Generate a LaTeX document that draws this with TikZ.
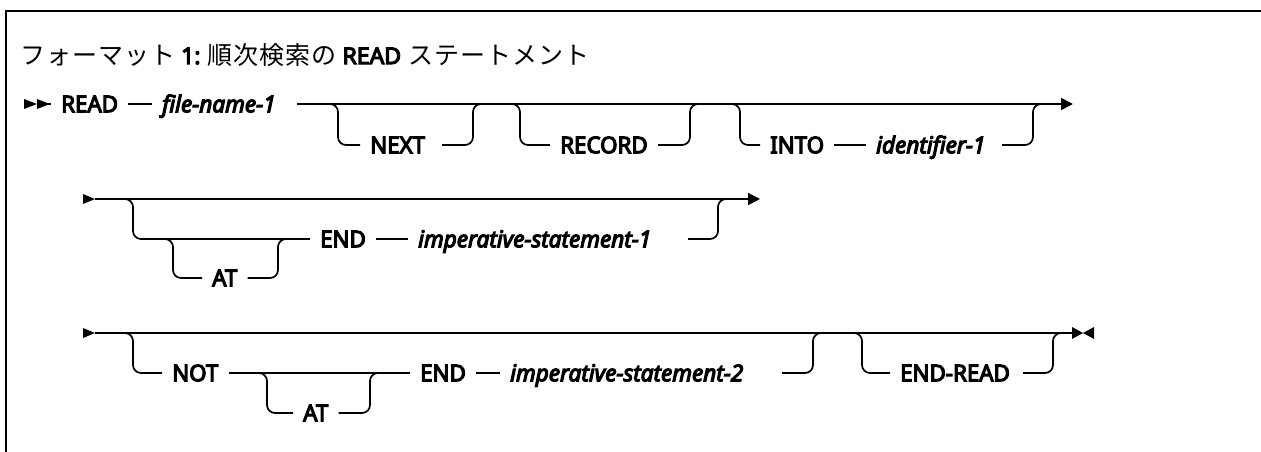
\documentclass[tikz,border=0pt]{standalone}
\usepackage{fontspec}
\setmainfont{Noto Sans}
\newfontfamily\kwfont{Noto Sans}[FakeStretch=0.97,FakeBold=5]
\newfontfamily\varfont{Noto Sans}[FakeStretch=0.98,FakeBold=5]
\newfontfamily\ttlfont{Noto Sans}[FakeBold=5]
\newfontfamily\cjk{Noto Sans CJK JP}[LetterSpace=4]
\usetikzlibrary{arrows.meta}
\tikzset{
  rail/.style={line width=1.7pt, rounded corners=8pt},
  tip/.style={-{Triangle[length=12pt,width=12pt]}},
  lbl/.style={inner xsep=10pt, inner ysep=0pt, text height=16.4pt, text depth=0pt, anchor=west},
  kw/.style={lbl, font=\kwfont\fontsize{23}{23}\selectfont},
  var/.style={lbl, font=\varfont\fontsize{23}{23}\selectfont\itshape},
  frame/.style={line width=2.4pt},
}
\newcommand{\jp}[1]{{\cjk\fontsize{25}{25}\selectfont #1}}
\newcommand{\lt}[1]{{\ttlfont\fontsize{23}{23}\selectfont #1}}
\begin{document}
\begin{tikzpicture}[x=1pt,y=-1pt]
\useasboundingbox (0,0) rectangle (1261,452);
% frame
\draw[frame] (6,452) coordinate (fb) -- (6,11) coordinate (fc) -- (1261,11) coordinate (fr);
% title
\node[anchor=base west, inner sep=0pt] (title) at (20,64)
  {\jp{フォーマット}\hspace{6pt}\lt{1:}\hspace{7pt}\jp{順次検索の}\hspace{6pt}\lt{READ}\hspace{7pt}\jp{ステートメント}};

% ---------------- row 1 ----------------
\fill (24,99) -- (37,104) -- (24,109) -- cycle;
\fill (37,99) -- (50,104) -- (37,109) -- cycle;
\node[kw]  (read)  at (51,104)  {READ};
\node[var] (file1) at (152,104) {file-name-1};
\draw[rail] (37,104) coordinate (s1) -- (read.west);
\draw[rail] (read.east) -- (file1.west);
\draw[rail,tip] (297,104) coordinate (m1s) -- (1073,104) coordinate (m1e);
% NEXT
\node[kw] (next) at (360,145) {NEXT};
\draw[rail] (330,104) coordinate (nd) -- (338,104) |- (next.west);
\draw[rail] (442,145) coordinate (ne1) -| (473,104) -- (481,104) coordinate (nr);
% RECORD
\node[kw] (record) at (550,145) {RECORD};
\draw[rail] (512,104) coordinate (rd) -- (520,104) |- (record.west);
\draw[rail] (658,145) coordinate (re) -| (690,104) -- (698,104) coordinate (rr);
% INTO identifier-1
\node[kw]  (into) at (760,145) {INTO};
\node[var] (ident) at (866,145) {identifier-1};
\draw[rail] (732,104) coordinate (id) -- (740,104) |- (into.west);
\draw[rail] (into.east) -- (ident.west);
\draw[rail] (1002,145) coordinate (ie) -| (1033,104) -- (1041,104) coordinate (ir);

% ---------------- row 2 ----------------
\fill (83,194) -- (95,199) -- (83,204) -- cycle;
\draw[rail,tip] (95,199) coordinate (m2s) -- (760,199) coordinate (m2e);
\node[kw]  (end1) at (310,239) {END};
\node[var] (imp1) at (408,239) {imperative-statement-1};
\draw[rail] (125,199) coordinate (ad) -- (133,199) |- (end1.west);
\draw[rail] (end1.east) -- (imp1.west);
\draw[rail] (688,239) coordinate (ae) -| (718,199) -- (726,199) coordinate (ar);
% AT
\node[kw] (at1) at (202,278) {AT};
\draw[rail] (165,239) coordinate (td) -- (173,239) |- (at1.west);
\draw[rail] (at1.east) -| (278,239) -- (286,239) coordinate (tr);

% ---------------- row 3 ----------------
\fill (83,328) -- (95,333) -- (83,338) -- cycle;
\draw[rail] (95,333) coordinate (m3s) -- (1072,333) coordinate (m3e);
\fill (1072,327) -- (1083,333) -- (1072,339) -- cycle;
\fill (1094,327) -- (1083,333) -- (1094,339) -- cycle;
\node[kw]  (not)  at (162,373) {NOT};
\node[kw]  (end2) at (410,373) {END};
\node[var] (imp2) at (500,373) {imperative-statement-2};
\draw[rail] (125,333) coordinate (nd2) -- (133,333) |- (not.west);
\draw[rail] (not.east) -- (end2.west);
\draw[rail] (end2.east) -- (imp2.west);
\draw[rail] (782,373) coordinate (ne) -| (813,333) -- (821,333) coordinate (nr2);
% AT
\node[kw] (at2) at (293,413) {AT};
\draw[rail] (259,373) coordinate (td2) -- (267,373) |- (at2.west);
\draw[rail] (at2.east) -| (370,373) -- (378,373) coordinate (tr2);
% END-READ
\node[kw] (endread) at (890,373) {END-READ};
\draw[rail] (854,333) coordinate (ed) -- (862,333) |- (endread.west);
\draw[rail] (1023,373) coordinate (ee) -| (1053,333) -- (1061,333) coordinate (er);
\end{tikzpicture}
\end{document}
